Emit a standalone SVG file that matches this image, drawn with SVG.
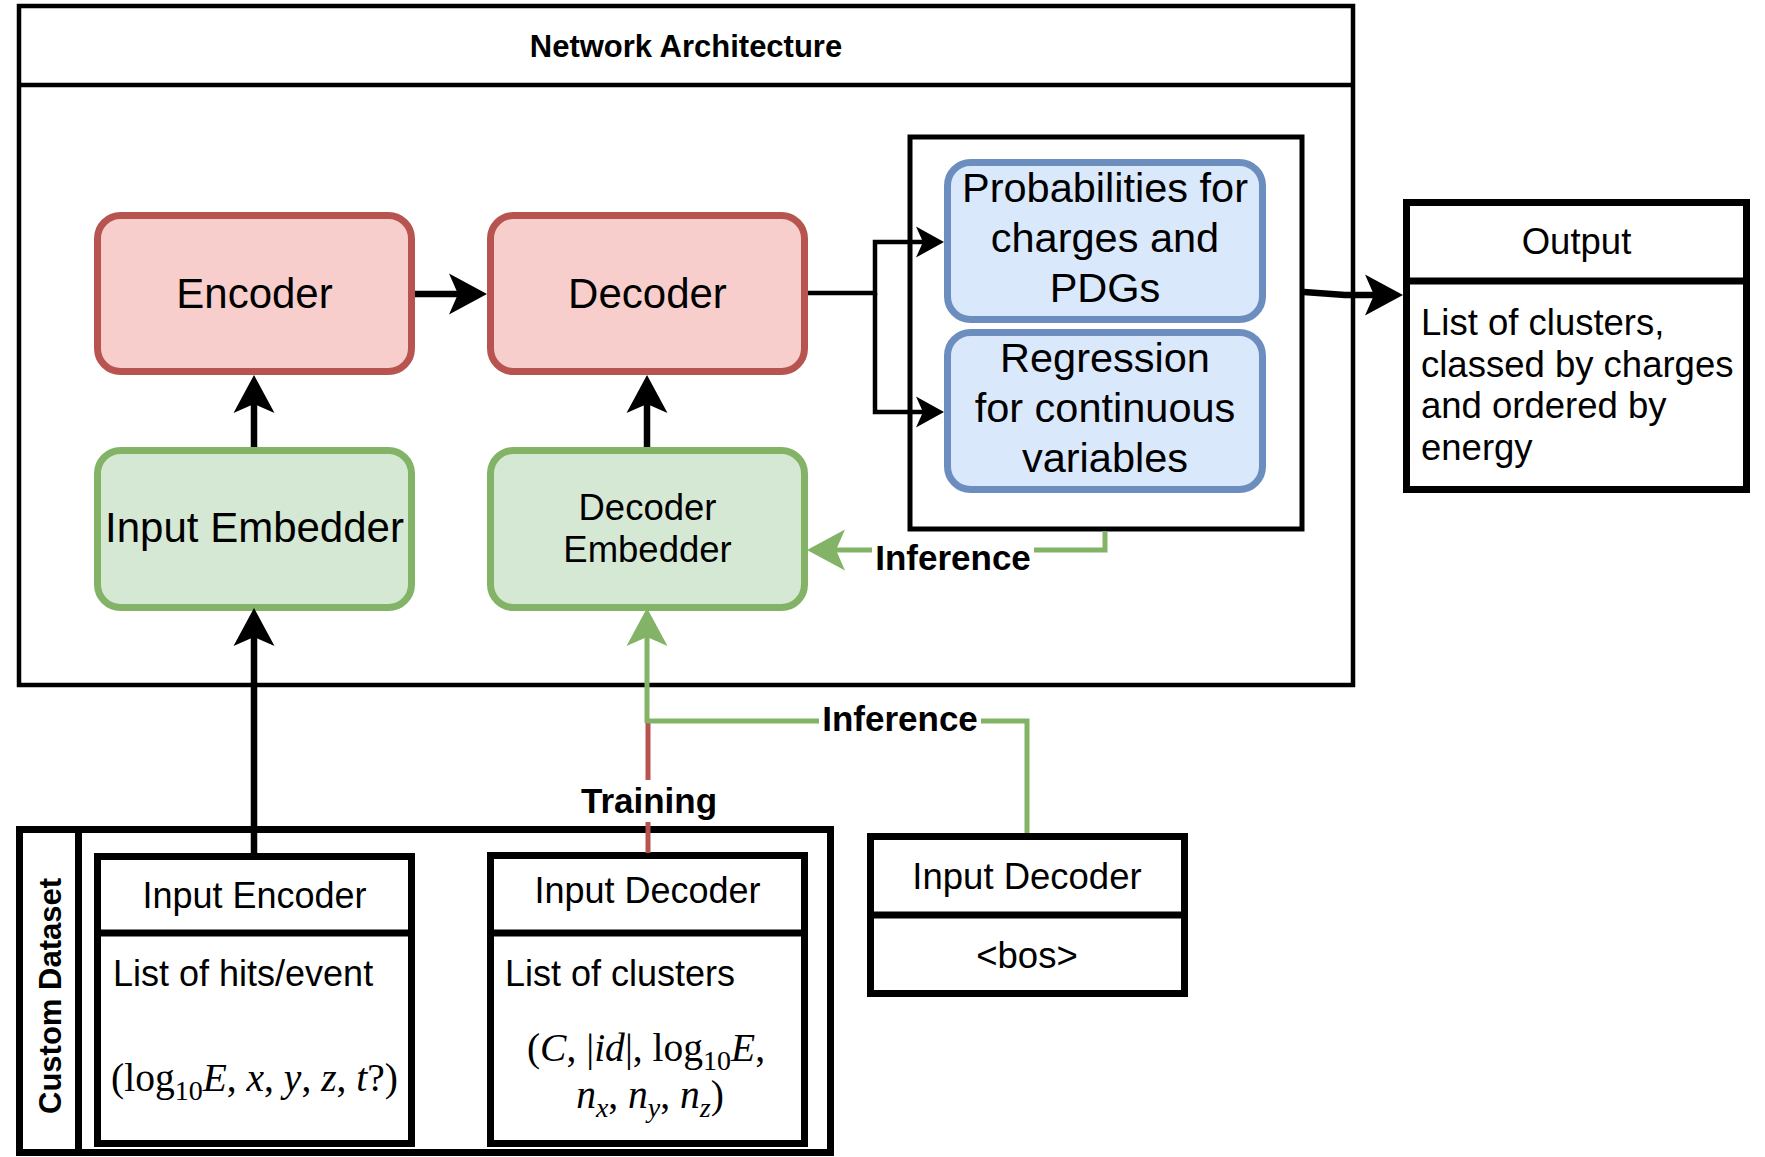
<svg xmlns="http://www.w3.org/2000/svg" width="1765" height="1157" viewBox="0 0 1765 1157">
  <style>
    .sans { font-family: "Liberation Sans", Arial, Helvetica, sans-serif; fill: #000; }
    .math { font-family: "Liberation Serif", "Times New Roman", serif; fill: #000; font-size: 39.5px; }
    .it { font-style: italic; }
    .bold { font-weight: bold; }
    .c { text-anchor: middle; }
    .red { fill: #f8cecc; stroke: #b85450; stroke-width: 7; }
    .green { fill: #d5e8d4; stroke: #82b366; stroke-width: 7; }
    .blue { fill: #dae8fc; stroke: #6c8ebf; stroke-width: 7; }
    .tbl { fill: #fff; stroke: #000; stroke-width: 7; }
    .sep { stroke: #000; stroke-width: 7; }
    .wire { fill: none; stroke: #000; stroke-width: 6.5; stroke-linejoin: miter; }
    .wire-thin { fill: none; stroke: #000; stroke-width: 4.5; stroke-linejoin: miter; }
    .wire-green { fill: none; stroke: #82b366; stroke-width: 5; stroke-linejoin: miter; }
    .wire-red { fill: none; stroke: #b85450; stroke-width: 5; }
    .lbl-bg { fill: #fff; }
  </style>
  <defs>
    <marker id="ah-lg" viewBox="-10 -21 40 42" markerWidth="40" markerHeight="42" refX="0" refY="0" orient="auto" markerUnits="userSpaceOnUse">
      <path d="M29,0 L-9,-20.5 L0,0 L-9,20.5 Z" fill="#000"/>
    </marker>
    <marker id="ah-sm" viewBox="-8 -16 30 32" markerWidth="30" markerHeight="32" refX="0" refY="0" orient="auto" markerUnits="userSpaceOnUse">
      <path d="M21,0 L-7,-15.5 L0,0 L-7,15.5 Z" fill="#000"/>
    </marker>
    <marker id="ah-green" viewBox="-10 -21 40 42" markerWidth="40" markerHeight="42" refX="0" refY="0" orient="auto" markerUnits="userSpaceOnUse">
      <path d="M29,0 L-9,-20.5 L0,0 L-9,20.5 Z" fill="#82b366"/>
    </marker>
  </defs>

  <!-- Network architecture container -->
  <g id="network-architecture">
    <rect x="19" y="6" width="1334" height="679" fill="#fff" stroke="#000" stroke-width="4.5"/>
    <line x1="19" y1="85" x2="1353" y2="85" stroke="#000" stroke-width="4.5"/>
    <text class="sans bold c" x="686" y="57" font-size="31">Network Architecture</text>
  </g>

  <!-- Custom dataset container -->
  <g id="custom-dataset">
    <rect x="19.5" y="829.5" width="811" height="323" fill="#fff" stroke="#000" stroke-width="7"/>
    <line x1="78.5" y1="829.5" x2="78.5" y2="1152.5" stroke="#000" stroke-width="7"/>
    <text class="sans bold c" transform="translate(61,996) rotate(-90)" x="0" y="0" font-size="31">Custom Dataset</text>
  </g>

  <!-- Output heads container -->
  <g id="heads">
    <rect x="910" y="137" width="392" height="392" fill="#fff" stroke="#000" stroke-width="5"/>
  </g>

  <g id="encoder">
    <rect class="red" x="97.5" y="215.5" width="314" height="156" rx="23"/>
    <text class="sans c" x="254.5" y="308" font-size="42">Encoder</text>
  </g>

  <g id="decoder">
    <rect class="red" x="490.5" y="215.5" width="314" height="156" rx="23"/>
    <text class="sans c" x="647.5" y="308" font-size="42">Decoder</text>
  </g>

  <g id="input-embedder">
    <rect class="green" x="97.5" y="450.5" width="314" height="157" rx="23"/>
    <text class="sans c" x="254.5" y="542" font-size="42">Input Embedder</text>
  </g>

  <g id="decoder-embedder">
    <rect class="green" x="490.5" y="450.5" width="314" height="157" rx="23"/>
    <text class="sans c" x="647.5" y="520" font-size="36.5">Decoder</text>
    <text class="sans c" x="647.5" y="562" font-size="36.5">Embedder</text>
  </g>

  <g id="classification-head">
    <rect class="blue" x="947.5" y="162.5" width="315" height="157" rx="23"/>
    <text class="sans c" x="1105" y="202" font-size="41.5">Probabilities for</text>
    <text class="sans c" x="1105" y="252" font-size="41.5">charges and</text>
    <text class="sans c" x="1105" y="302" font-size="41.5">PDGs</text>
  </g>

  <g id="regression-head">
    <rect class="blue" x="947.5" y="332.5" width="315" height="157" rx="23"/>
    <text class="sans c" x="1105" y="372" font-size="41.5">Regression</text>
    <text class="sans c" x="1105" y="422" font-size="41.5">for continuous</text>
    <text class="sans c" x="1105" y="472" font-size="41.5">variables</text>
  </g>

  <g id="output">
    <rect class="tbl" x="1406.5" y="202.5" width="340" height="287"/>
    <line class="sep" x1="1406.5" y1="281" x2="1746.5" y2="281"/>
    <text class="sans c" x="1576.5" y="254" font-size="36.5">Output</text>
    <text class="sans" x="1421" y="335" font-size="36.5">List of clusters,</text>
    <text class="sans" x="1421" y="376.5" font-size="36.5">classed by charges</text>
    <text class="sans" x="1421" y="418" font-size="36.5">and ordered by</text>
    <text class="sans" x="1421" y="459.5" font-size="36.5">energy</text>
  </g>

  <g id="input-encoder">
    <rect class="tbl" x="97.5" y="856.5" width="314" height="287"/>
    <line class="sep" x1="97.5" y1="933" x2="411.5" y2="933"/>
    <text class="sans c" x="254.5" y="908" font-size="36">Input Encoder</text>
    <text class="sans" x="113" y="986" font-size="36">List of hits/event</text>
    <text class="math c" x="254.5" y="1091">(log<tspan font-size="28" dy="9">10</tspan><tspan class="it" dy="-9">E</tspan>, <tspan class="it">x</tspan>, <tspan class="it">y</tspan>, <tspan class="it">z</tspan>, <tspan class="it">t</tspan>?)</text>
  </g>

  <g id="input-decoder-training">
    <rect class="tbl" x="490.5" y="855.5" width="314" height="288"/>
    <line class="sep" x1="490.5" y1="933" x2="804.5" y2="933"/>
    <text class="sans c" x="647.5" y="903" font-size="36">Input Decoder</text>
    <text class="sans" x="505" y="986" font-size="36">List of clusters</text>
    <text class="math c" x="646" y="1061">(<tspan class="it">C</tspan>, |<tspan class="it">id</tspan>|, log<tspan font-size="28" dy="9">10</tspan><tspan class="it" dy="-9">E</tspan>,</text>
    <text class="math c" x="650" y="1108"><tspan class="it">n</tspan><tspan class="it" font-size="28" dy="9">x</tspan><tspan dy="-9">, </tspan><tspan class="it">n</tspan><tspan class="it" font-size="28" dy="9">y</tspan><tspan dy="-9">, </tspan><tspan class="it">n</tspan><tspan class="it" font-size="28" dy="9">z</tspan><tspan dy="-9">)</tspan></text>
  </g>

  <g id="input-decoder-inference">
    <rect class="tbl" x="870.5" y="836.5" width="314" height="157"/>
    <line class="sep" x1="870.5" y1="915" x2="1184.5" y2="915"/>
    <text class="sans c" x="1027" y="889" font-size="36.5">Input Decoder</text>
    <text class="sans c" x="1027" y="968" font-size="36.5">&lt;bos&gt;</text>
  </g>

  <!-- Connectors -->
  <g id="connectors">
    <path class="wire" d="M415,294 H458" marker-end="url(#ah-lg)"/>
    <path class="wire-thin" d="M808,293 H875 V242 H923" marker-end="url(#ah-sm)"/>
    <path class="wire-thin" d="M875,293 V412 H923" marker-end="url(#ah-sm)"/>
    <path class="wire" d="M1304,292 L1345,295 H1374" marker-end="url(#ah-lg)"/>
    <path class="wire" d="M254,447 V404" marker-end="url(#ah-lg)"/>
    <path class="wire" d="M647,447 V404" marker-end="url(#ah-lg)"/>
    <path class="wire" d="M254,853 V637" marker-end="url(#ah-lg)"/>

    <path class="wire-red" d="M648,853 V721"/>
    <path class="wire-green" d="M647,723 V637" marker-end="url(#ah-green)"/>
    <path class="wire-green" d="M647,721 H1027 V833"/>
    <path class="wire-green" d="M1105,531 V550 H836" marker-end="url(#ah-green)"/>

    <!-- edge labels -->
    <rect class="lbl-bg" x="872" y="533" width="162" height="42"/>
    <text class="sans bold c" x="953" y="570" font-size="35">Inference</text>
    <rect class="lbl-bg" x="819" y="700" width="162" height="42"/>
    <text class="sans bold c" x="900" y="731" font-size="35">Inference</text>
    <rect class="lbl-bg" x="579" y="780" width="140" height="42"/>
    <text class="sans bold c" x="649" y="813" font-size="35">Training</text>
  </g>
</svg>
